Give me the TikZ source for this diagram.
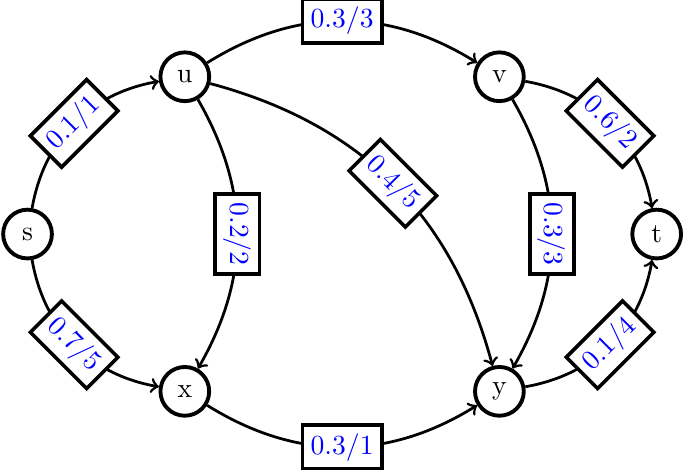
\documentclass[tikz,border=0pt]{standalone}
\usetikzlibrary{arrows}
\begin{document}
\begin{tikzpicture}[
  vertex/.style={circle, draw, line width=1.4pt, minimum size=6.2mm, inner sep=0pt},
  flow/.style={draw, line width=1.3pt, fill=white, text=blue, inner sep=3pt, sloped},
  edge/.style={->, line width=1pt}
]
\useasboundingbox (-0.35,-3.0) rectangle (8.36,2.976);
\node[vertex] (s) at (0,0) {s};
\node[vertex] (u) at (2,2) {u};
\node[vertex] (v) at (6,2) {v};
\node[vertex] (t) at (8,0) {t};
\node[vertex] (x) at (2,-2) {x};
\node[vertex] (y) at (6,-2) {y};
\draw[edge] (s) to[bend left=35] node[flow] {0.1/1} (u);
\draw[edge] (s) to[bend right=35] node[flow] {0.7/5} (x);
\draw[edge] (u) to[bend left=32] node[flow] {0.3/3} (v);
\draw[edge] (u) to[bend left=30] node[flow] {0.2/2} (x);
\draw[edge] (u) to[bend left=30] node[flow] {0.4/5} (y);
\draw[edge] (v) to[bend left=30] node[flow] {0.3/3} (y);
\draw[edge] (x) to[bend right=32] node[flow] {0.3/1} (y);
\draw[edge] (v) to[bend left=35] node[flow] {0.6/2} (t);
\draw[edge] (y) to[bend right=35] node[flow] {0.1/4} (t);
\end{tikzpicture}
\end{document}
